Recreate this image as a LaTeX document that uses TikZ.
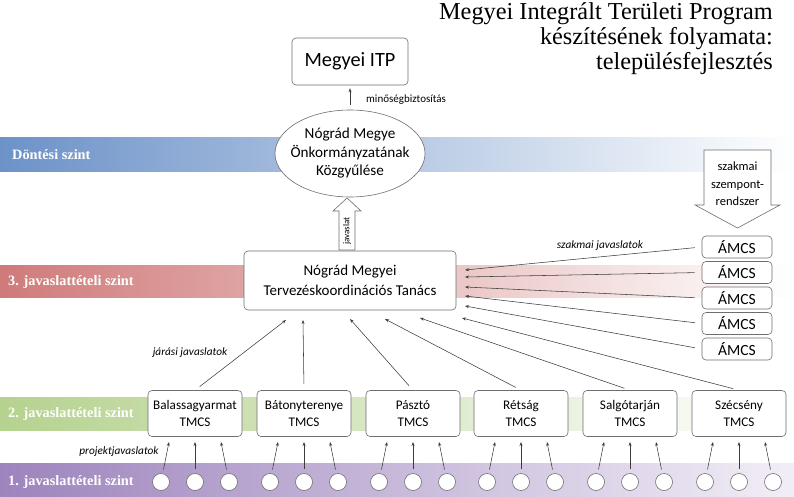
\documentclass[tikz,border=0pt]{standalone}
\usepackage{fontspec}
\setmainfont{Carlito}
\newfontfamily\titlefont{Liberation Serif}
\usetikzlibrary{shapes.geometric,arrows.meta,calc}
\definecolor{bandblue}{RGB}{108,146,200}
\definecolor{bandred}{RGB}{208,122,122}
\definecolor{bandgreen}{RGB}{181,210,143}
\definecolor{bandpurple}{RGB}{157,132,189}
\definecolor{bandpurpleR}{RGB}{242,238,247}
\definecolor{edge}{RGB}{110,110,110}
\definecolor{lnk}{RGB}{60,60,60}
\begin{document}
\begin{tikzpicture}[x=1pt,y=-1pt,
  box/.style={draw=edge, rounded corners=4pt, fill=white, line width=0.6pt, align=center, inner sep=0pt},
  dot/.style={circle, draw=edge, fill=white, line width=0.6pt, minimum size=17pt, inner sep=0pt},
  conn/.style={draw=lnk, line width=0.55pt, -{Stealth[length=4pt,width=3pt]}},
  blockarrow/.style={draw=edge, fill=white, line width=0.6pt},
  bandlabel/.style={anchor=west, text=white, inner sep=0pt, font=\titlefont\bfseries\fontsize{14.3}{16}\selectfont},
  lbl/.style={inner sep=0pt, font=\itshape\fontsize{11.3}{13}\selectfont},
  titletext/.style={anchor=base east, inner sep=0pt, font=\titlefont\fontsize{24.3}{26}\selectfont}]
\useasboundingbox (0,0) rectangle (794,497);

% bands
\fill[left color=bandblue, right color=white] (0,138) rectangle (794,172);
\fill[left color=bandred, right color=white] (0,265) rectangle (794,297);
\fill[left color=bandgreen, right color=white] (0,397) rectangle (794,430);
\fill[left color=bandpurple, right color=bandpurpleR] (0,463) rectangle (794,497);

\node[bandlabel] (bl0) at (12,155) {Döntési szint};
\node[bandlabel] (bl3) at (8,282) {3. javaslattételi szint};
\node[bandlabel] (bl2) at (8,414) {2. javaslattételi szint};
\node[bandlabel] (bl1) at (8,482) {1. javaslattételi szint};

% title
\node[titletext] (ti1) at (773,20) {Megyei Integrált Területi Program};
\node[titletext] (ti2) at (773,45) {készítésének folyamata:};
\node[titletext] (ti3) at (773,70) {településfejlesztés};

% top nodes
\node[box, minimum width=116pt, minimum height=47pt, font=\fontsize{20.3}{22}\selectfont] (itp) at (350,61.5) {Megyei ITP};
\node[ellipse, draw=edge, fill=white, line width=0.6pt, minimum width=150pt, minimum height=87pt, inner sep=0pt] (ell) at (350,153.5) {};
\node[align=center, inner sep=0pt, font=\fontsize{15.2}{18.5}\selectfont] (elltext) at (ell) {Nógrád Megye\\Önkormányzatának\\Közgyűlése};
\draw[conn, shorten <=5pt, shorten >=3pt] (ell.north) -- (itp.south);
\node[lbl, anchor=west, font=\fontsize{11}{13}\selectfont] (minoseg) at (366,100) {minőségbiztosítás};

\node[box, minimum width=212pt, minimum height=59pt, font=\fontsize{15}{20}\selectfont] (tk) at (350,280.5) {Nógrád Megyei\\Tervezéskoordinációs Tanács};

% javaslat block arrow
\draw[blockarrow] (339,250) -- (339,211) -- (333,211) -- (347,198) -- (361,211) -- (355,211) -- (355,250) -- cycle;
\node[rotate=90, inner sep=0pt, font=\fontsize{9}{10}\selectfont] (jav) at (347,231) {javaslat};

% szakmai szempontrendszer block arrow
\draw[blockarrow] (704,150) -- (771,150) -- (771,205) -- (780,205) -- (737.5,228) -- (695,205) -- (704,205) -- cycle;
\node[align=center, inner sep=0pt, font=\fontsize{12.5}{17.5}\selectfont] (szsz) at (737.5,184) {szakmai\\szempont-\\rendszer};

% AMCS boxes and arrows
\foreach \i/\y/\ty in {1/247/270, 2/272.5/277, 3/298/287, 4/323.5/296, 5/349/306} {
  \node[box, minimum width=70pt, minimum height=22pt, font=\fontsize{15.5}{17}\selectfont] (amcs\i) at (737,\y) {ÁMCS};
  \coordinate (m\i) at (465,\ty);
  \draw[conn, shorten <=7pt] (amcs\i.west) -- (m\i);
}
\node[lbl] (szj) at (600,246) {szakmai javaslatok};

% TMCS boxes
\foreach \i/\x/\nm/\tx/\ty in {1/195/Balassagyarmat/286/320, 2/304/Bátonyterenye/303/320, 3/413/Pásztó/350/319, 4/521/Rétság/385/319, 5/630/Salgótarján/420/318, 6/739/Szécsény/462/318} {
  \node[box, minimum width=94pt, minimum height=46pt, font=\fontsize{13.2}{16.5}\selectfont] (t\i) at (\x,413.5) {\nm\\TMCS};
  \coordinate (k\i) at (\tx,\ty);
  \draw[conn, shorten <=6pt] (t\i.north) -- (k\i);
  \foreach \j/\dx in {a/-34, b/0, c/34} {
    \node[dot] (c\i\j) at (\x+\dx,482) {};
    \coordinate (p\i\j) at (\x+\dx*26/34,442);
    \draw[conn, shorten <=4pt] (c\i\j) -- (p\i\j);
  }
}
\node[lbl] (jaras) at (190,353) {járási javaslatok};
\node[lbl] (proj) at (119,452) {projektjavaslatok};
\end{tikzpicture}
\end{document}
